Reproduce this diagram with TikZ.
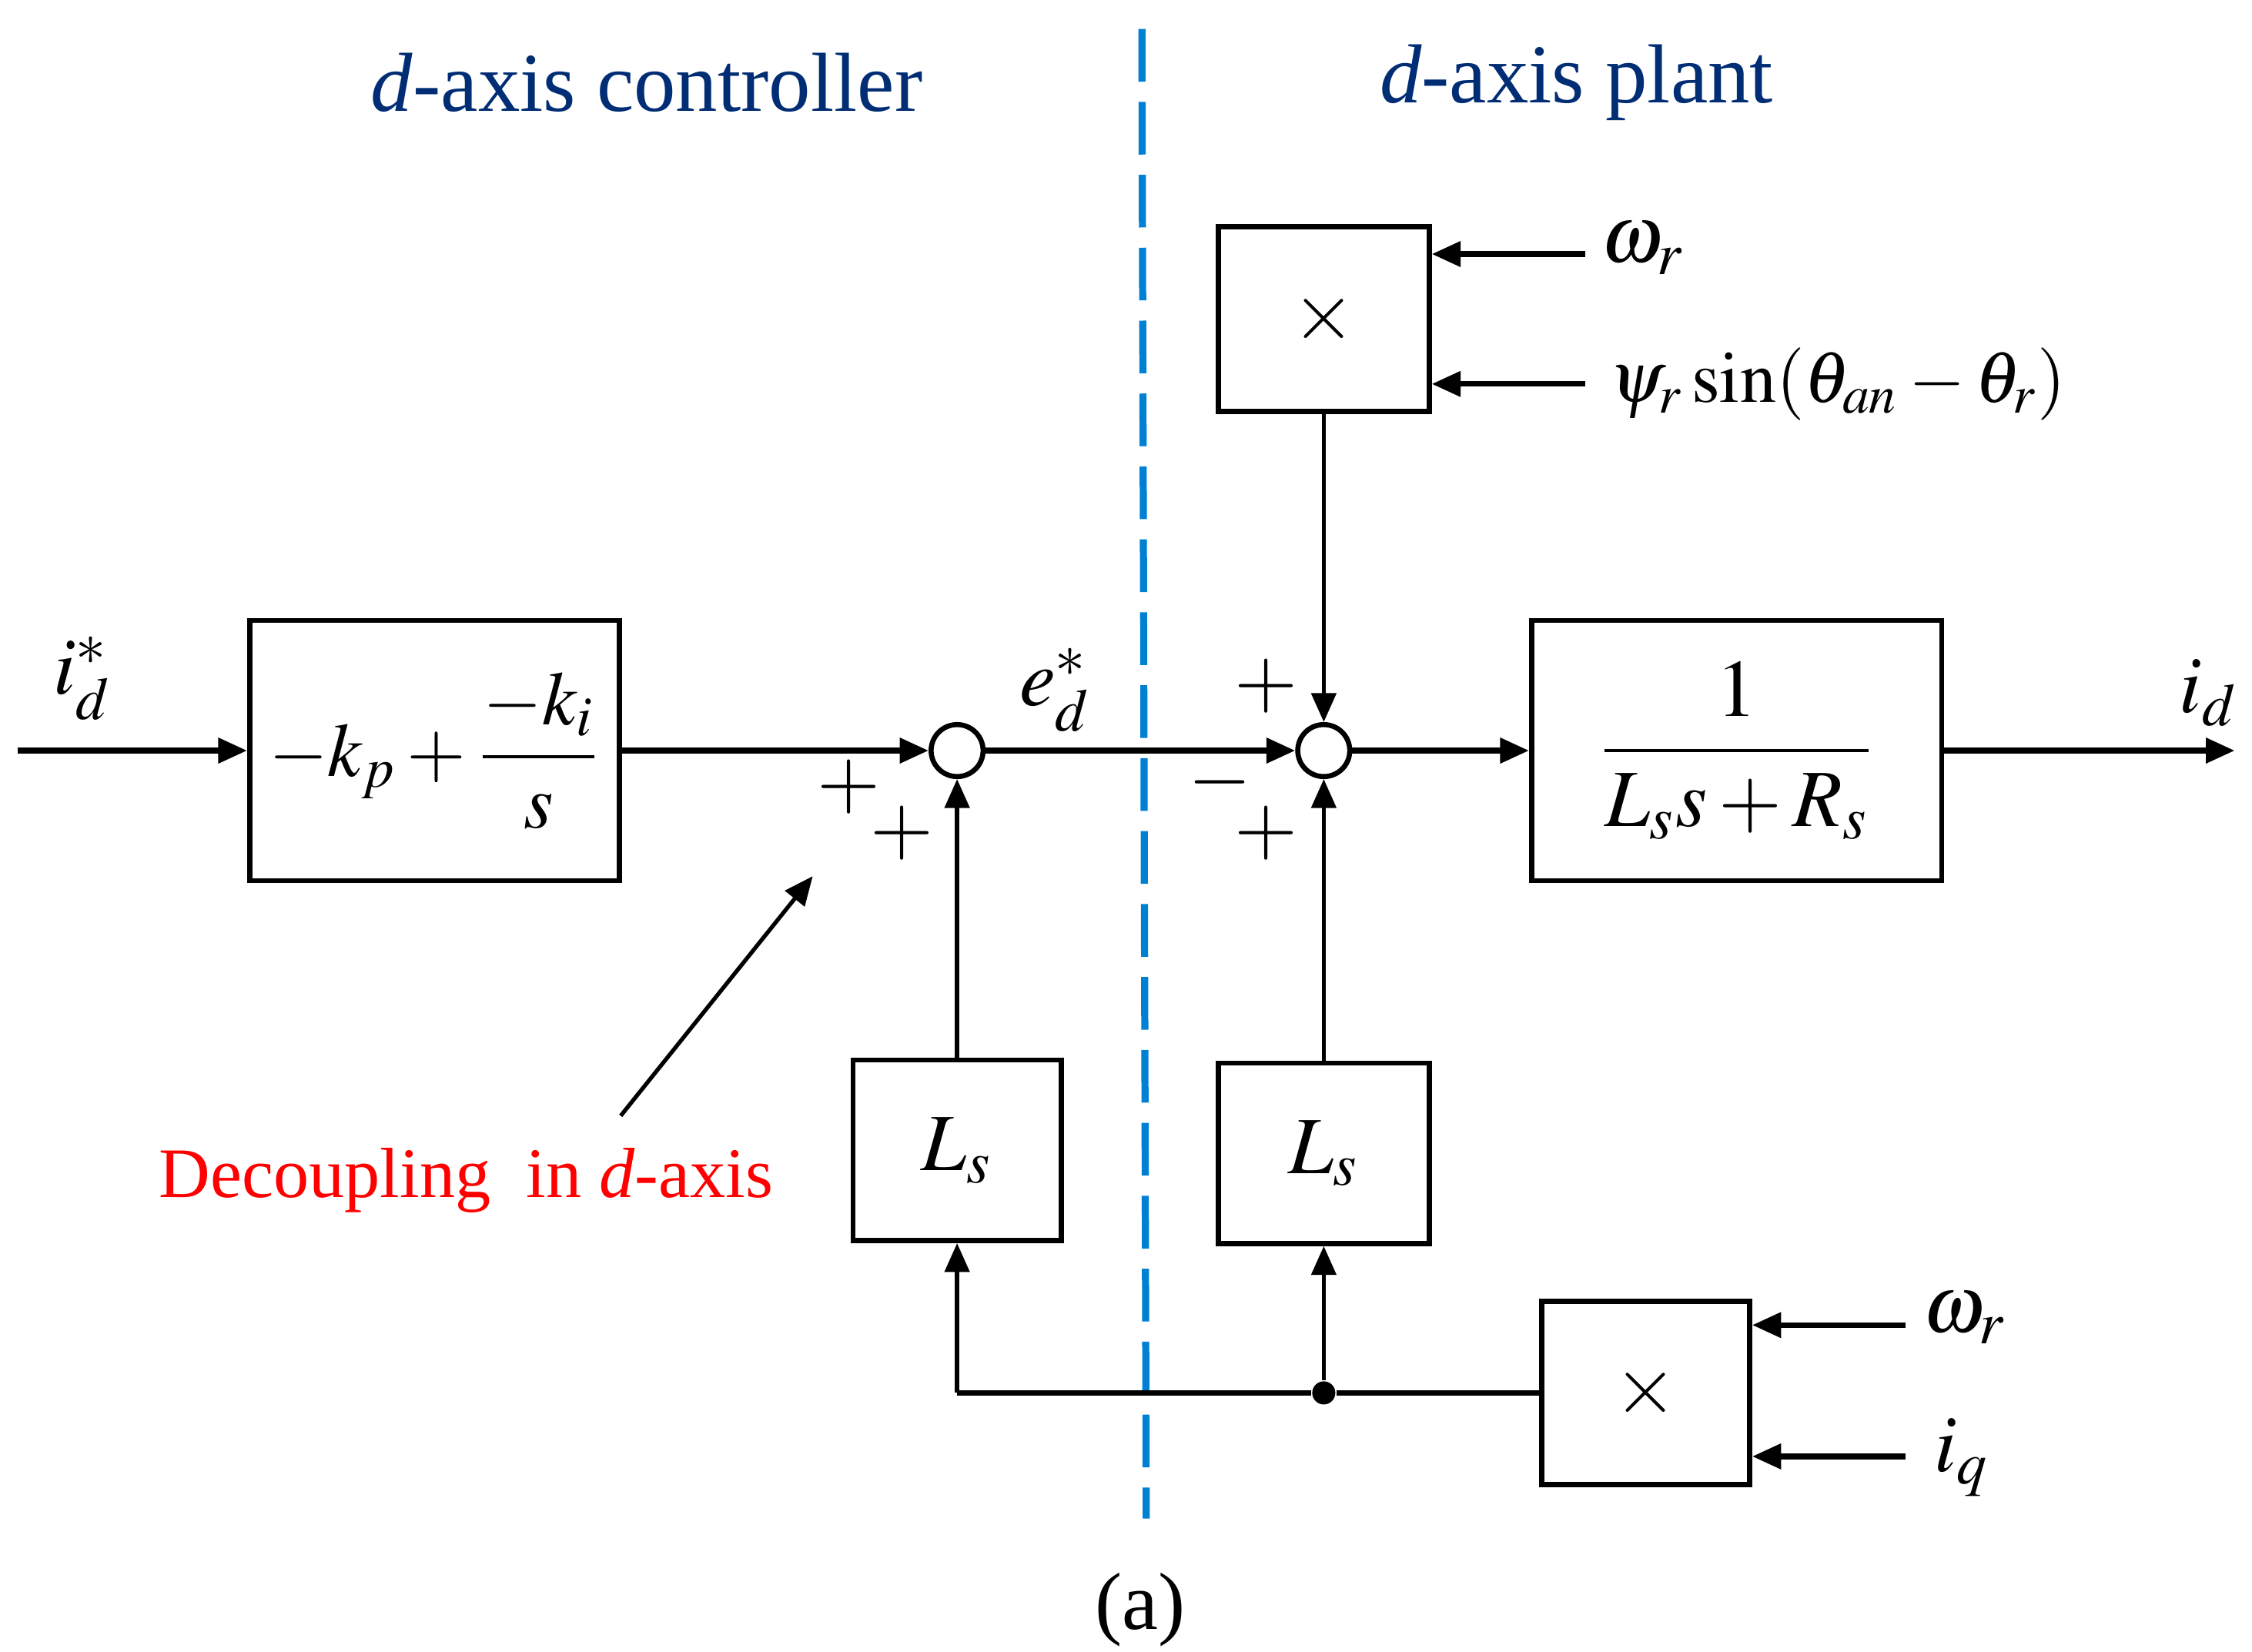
\documentclass[tikz,border=0pt]{standalone}
\usepackage{amsmath}
\usepackage{mathptmx}
\usepackage{fontspec}
\setmainfont{Liberation Serif}
\usetikzlibrary{arrows.meta}
\definecolor{titleblue}{RGB}{0,45,115}
\definecolor{lineblue}{RGB}{0,128,210}
\newcommand{\sz}[1]{\fontsize{#1}{#1}\selectfont}

\begin{document}
\begin{tikzpicture}[x=0.01cm,y=-0.01cm,font=\sz{16},
    >={Triangle[length=0.2cm,width=0.17cm]},
    blk/.style={draw,line width=1pt,inner sep=0pt},
    sumj/.style={draw,circle,line width=1pt,minimum size=0.36cm,inner sep=0pt},
    wire/.style={line width=1.1pt},
    vwire/.style={line width=0.8pt}]
    \useasboundingbox (0,0) rectangle (1560,1144);
    % split between controller and plant
    \draw[lineblue,line width=1.4pt,dash pattern=on 0.365cm off 0.14cm] (791,20) -- (794,1052);
    \node[text=titleblue,font=\sz{16.5}] (tc) at (448,57) {\textit{d}-axis controller};
    \node[text=titleblue,font=\sz{16.5}] (tp) at (1092,57) {\textit{d}-axis plant};
    % blocks
    \node[blk,minimum width=2.56cm,minimum height=1.8cm,font=\sz{15}] (PI) at (301,520) {$-k_p+\dfrac{-k_i}{s}$};
    \node[sumj] (S1) at (663,520) {};
    \node[sumj] (S2) at (917,520) {};
    \node[blk,minimum width=2.84cm,minimum height=1.8cm] (G) at (1203,520) {$\dfrac{1}{L_s s+R_s}$};
    \node[blk,minimum width=1.46cm,minimum height=1.28cm] (M1) at (917,221) {$\times$};
    \node[blk,minimum width=1.44cm,minimum height=1.25cm] (L1) at (663,797) {$L_s$};
    \node[blk,minimum width=1.46cm,minimum height=1.25cm] (L2) at (917,799) {$L_s$};
    \node[blk,minimum width=1.44cm,minimum height=1.27cm] (M2) at (1140,965) {$\times$};
    \node[circle,fill,inner sep=0pt,minimum size=0.16cm] (J) at (917,965) {};
    % free ends
    \coordinate (in) at (12,520);
    \coordinate (out) at (1548,520);
    \coordinate (w1) at (1098,176);
    \coordinate (p1) at (1098,266);
    \coordinate (w2) at (1320,918);
    \coordinate (q2) at (1320,1009);
    \coordinate (br) at (663,965);
    % labels
    \node (idr) at (57,470) {$i_d^*$};
    \node (edr) at (731,478) {$e_d^*$};
    \node (id) at (1530,480) {$i_d$};
    \node (wr1) at (1138,172) {$\omega_r$};
    \node[anchor=west,inner sep=0pt,font=\sz{14.3}] (psi) at (1114,266) {$\psi_r\sin(\theta_{an}-\theta_r)$};
    \node (wr2) at (1361,913) {$\omega_r$};
    \node (iq) at (1359,1010) {$i_q$};
    \node (s1a) at (588,545) {$+$};
    \node (s1b) at (625,577) {$+$};
    \node (s2a) at (877,475) {$+$};
    \node (s2b) at (845,542) {$-$};
    \node (s2c) at (877,577) {$+$};
    % signals
    \draw[wire,->] (in) -- (PI);
    \draw[wire,->] (PI) -- (S1);
    \draw[wire,->] (S1) -- (S2);
    \draw[wire,->] (S2) -- (G);
    \draw[wire,->] (G) -- (out);
    \draw[wire,->] (w1) -- (M1.east |- w1);
    \draw[wire,->] (p1) -- (M1.east |- p1);
    \draw[vwire,->] (M1) -- (S2);
    \draw[vwire,->] (L1) -- (S1);
    \draw[vwire,->] (L2) -- (S2);
    \draw[wire,->] (w2) -- (M2.east |- w2);
    \draw[wire,->] (q2) -- (M2.east |- q2);
    \draw[wire] (M2) -- (J) -- (br);
    \draw[vwire,->] (br) -- (L1);
    \draw[vwire,->] (J) -- (L2);
    % decoupling note
    \node[text=red,font=\sz{14}] (dec) at (323,818) {Decoupling\ \ in \textit{d}-axis};
    \coordinate (dect) at (430,773);
    \coordinate (dech) at (563,607);
    \draw[vwire,->] (dect) -- (dech);
    \node (cap) at (790,1115) {(a)};
\end{tikzpicture}
\end{document}
